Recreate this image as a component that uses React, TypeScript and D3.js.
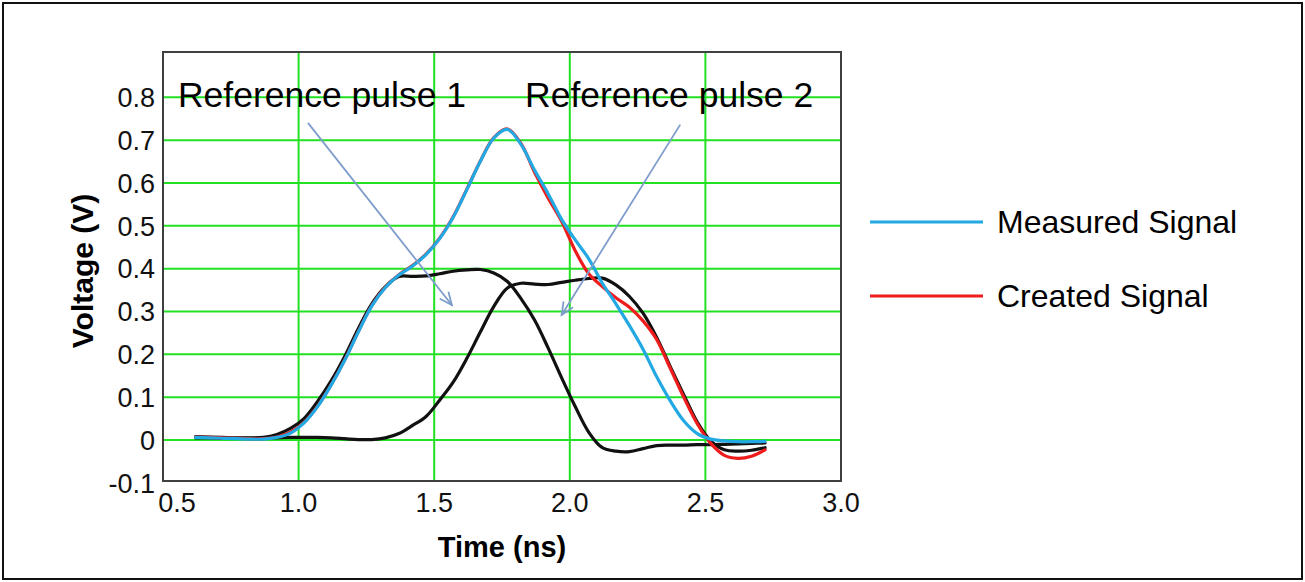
import * as d3 from "d3";

// time samples (ns)
const times = [
  0.62, 0.67, 0.72, 0.77, 0.82, 0.87, 0.92, 0.97, 1.02, 1.07, 1.12, 1.17, 1.22, 1.27,
  1.32, 1.37, 1.42, 1.47, 1.52, 1.57, 1.62, 1.67, 1.72, 1.77, 1.82, 1.87, 1.92, 1.97,
  2.02, 2.07, 2.12, 2.17, 2.22, 2.27, 2.32, 2.37, 2.42, 2.47, 2.52, 2.57, 2.62, 2.67, 2.72,
];

const measured = [
  0.006, 0.005, 0.004, 0.003, 0.002, 0.002, 0.006, 0.016, 0.04, 0.078, 0.128, 0.186, 0.252, 0.313,
  0.356, 0.385, 0.406, 0.433, 0.47, 0.52, 0.584, 0.65, 0.705, 0.725, 0.69, 0.63, 0.575, 0.515,
  0.467, 0.423, 0.366, 0.318, 0.267, 0.212, 0.148, 0.092, 0.045, 0.015, 0.002, -0.002, -0.004, -0.004, -0.003,
];

const created = [
  0.007, 0.006, 0.005, 0.004, 0.003, 0.003, 0.007, 0.018, 0.041, 0.079, 0.129, 0.187, 0.253, 0.314,
  0.357, 0.386, 0.407, 0.434, 0.471, 0.521, 0.585, 0.651, 0.706, 0.726, 0.692, 0.625, 0.565, 0.51,
  0.442, 0.388, 0.358, 0.332, 0.31, 0.278, 0.235, 0.168, 0.1, 0.038, -0.008, -0.036, -0.043, -0.038, -0.023,
];

const pulse1 = [
  0.008, 0.007, 0.006, 0.005, 0.005, 0.006, 0.013, 0.027, 0.05, 0.09, 0.138, 0.195, 0.26, 0.318,
  0.358, 0.382, 0.382, 0.383, 0.388, 0.394, 0.397, 0.398, 0.39, 0.37, 0.33, 0.28, 0.215, 0.145,
  0.078, 0.018, -0.018, -0.026, -0.027, -0.02, -0.013, -0.012, -0.012, -0.011, -0.011, -0.01, -0.009, -0.008, -0.007,
];

const pulse2 = [
  0.005, 0.005, 0.004, 0.004, 0.004, 0.004, 0.005, 0.006, 0.006, 0.006, 0.005, 0.003, 0.001, 0.001,
  0.005, 0.015, 0.034, 0.055, 0.093, 0.135, 0.19, 0.252, 0.312, 0.355, 0.366, 0.364, 0.363, 0.368,
  0.373, 0.377, 0.378, 0.362, 0.335, 0.296, 0.24, 0.172, 0.106, 0.042, -0.002, -0.023, -0.026, -0.024, -0.018,
];

const xTicks = [0.5, 1.0, 1.5, 2.0, 2.5, 3.0];
const yTicks = [-0.1, 0, 0.1, 0.2, 0.3, 0.4, 0.5, 0.6, 0.7, 0.8];

// annotations in data units: label position, arrow start, arrow end
const annotations = [
  { label: "Reference pulse 1", tx: 0.555, ty: 0.777, from: [1.036, 0.739], to: [1.565, 0.315] },
  { label: "Reference pulse 2", tx: 1.835, ty: 0.778, from: [2.406, 0.735], to: [1.97, 0.292] },
];

const legendItems = [
  { label: "Measured Signal", color: "#22a8e2" },
  { label: "Created Signal", color: "#ee1c1c" },
];

const width = 1305;
const height = 582;
const plot = { left: 163, right: 841, top: 52, bottom: 481 };
const font = "'Liberation Sans', Arial, sans-serif";
const gridColor = "#22e022";
const arrowColor = "#7f9dcc";

const x = d3.scaleLinear().domain([0.5, 3.0]).range([plot.left, plot.right]);
const y = d3.scaleLinear().domain([0, 0.8]).range([440, 97.3]);

const line = d3
  .line<number>()
  .x((_, i) => x(times[i]))
  .y((d) => y(d))
  .curve(d3.curveCatmullRom.alpha(0.5));

function Arrow({ from, to }: { from: number[]; to: number[] }) {
  const x1 = x(from[0]);
  const y1 = y(from[1]);
  const x2 = x(to[0]);
  const y2 = y(to[1]);
  const ang = Math.atan2(y2 - y1, x2 - x1);
  const len = 13;
  const spread = 0.42;
  const a1 = [x2 - len * Math.cos(ang - spread), y2 - len * Math.sin(ang - spread)];
  const a2 = [x2 - len * Math.cos(ang + spread), y2 - len * Math.sin(ang + spread)];
  return (
    <g stroke={arrowColor} strokeWidth={1.8} fill="none" strokeLinecap="round">
      <line x1={x1} y1={y1} x2={x2} y2={y2} />
      <polyline points={`${a1[0]},${a1[1]} ${x2},${y2} ${a2[0]},${a2[1]}`} />
    </g>
  );
}

export default function App() {
  return (
    <svg
      width={width}
      height={height}
      viewBox={`0 0 ${width} ${height}`}
      style={{ position: "absolute", left: 0, top: 0, background: "#fff" }}
      fontFamily={font}
    >
      <rect x={3} y={3} width={width - 6} height={height - 6} fill="#fff" stroke="#111" strokeWidth={2} />

      {/* grid */}
      {yTicks.filter((t) => t >= 0).map((t) => (
        <line key={`gy${t}`} x1={plot.left} x2={plot.right} y1={y(t)} y2={y(t)} stroke={gridColor} strokeWidth={2} />
      ))}
      {xTicks.slice(1, -1).map((t) => (
        <line key={`gx${t}`} x1={x(t)} x2={x(t)} y1={plot.top} y2={plot.bottom} stroke={gridColor} strokeWidth={2} />
      ))}

      {/* series */}
      <g fill="none" strokeWidth={3.2} strokeLinejoin="round" strokeLinecap="round">
        <path d={line(pulse1) ?? ""} stroke="#111" />
        <path d={line(pulse2) ?? ""} stroke="#111" />
        <path d={line(created) ?? ""} stroke={legendItems[1].color} />
        <path d={line(measured) ?? ""} stroke={legendItems[0].color} />
      </g>

      <rect
        x={plot.left}
        y={plot.top}
        width={plot.right - plot.left}
        height={plot.bottom - plot.top}
        fill="none"
        stroke="#404040"
        strokeWidth={2}
      />

      {/* annotations */}
      {annotations.map((a) => (
        <g key={a.label}>
          <text x={x(a.tx)} y={y(a.ty)} fontSize={35.5} fill="#000">
            {a.label}
          </text>
          <Arrow from={a.from} to={a.to} />
        </g>
      ))}

      {/* axis labels */}
      {yTicks.map((t) => (
        <text key={`ly${t}`} x={155} y={y(t)} dy="0.36em" textAnchor="end" fontSize={27} fill="#111">
          {t === 0 ? "0" : t.toFixed(1)}
        </text>
      ))}
      {xTicks.map((t, i) => (
        <text key={`lx${t}`} x={x(t) + (i === 0 ? 14 : 0)} y={512} textAnchor="middle" fontSize={27} fill="#111">
          {t.toFixed(1)}
        </text>
      ))}

      <text x={502} y={557} textAnchor="middle" fontSize={29} fontWeight={700} fill="#000">
        Time (ns)
      </text>
      <text
        transform={`translate(93, ${271}) rotate(-90)`}
        textAnchor="middle"
        fontSize={30}
        fontWeight={700}
        fill="#000"
      >
        Voltage (V)
      </text>

      {/* legend */}
      {legendItems.map((item, i) => (
        <g key={item.label} transform={`translate(870, ${222 + i * 74})`}>
          <line x1={0} x2={113} y1={0} y2={0} stroke={item.color} strokeWidth={3} />
          <text x={127} y={11} fontSize={32} fill="#000">
            {item.label}
          </text>
        </g>
      ))}
    </svg>
  );
}
